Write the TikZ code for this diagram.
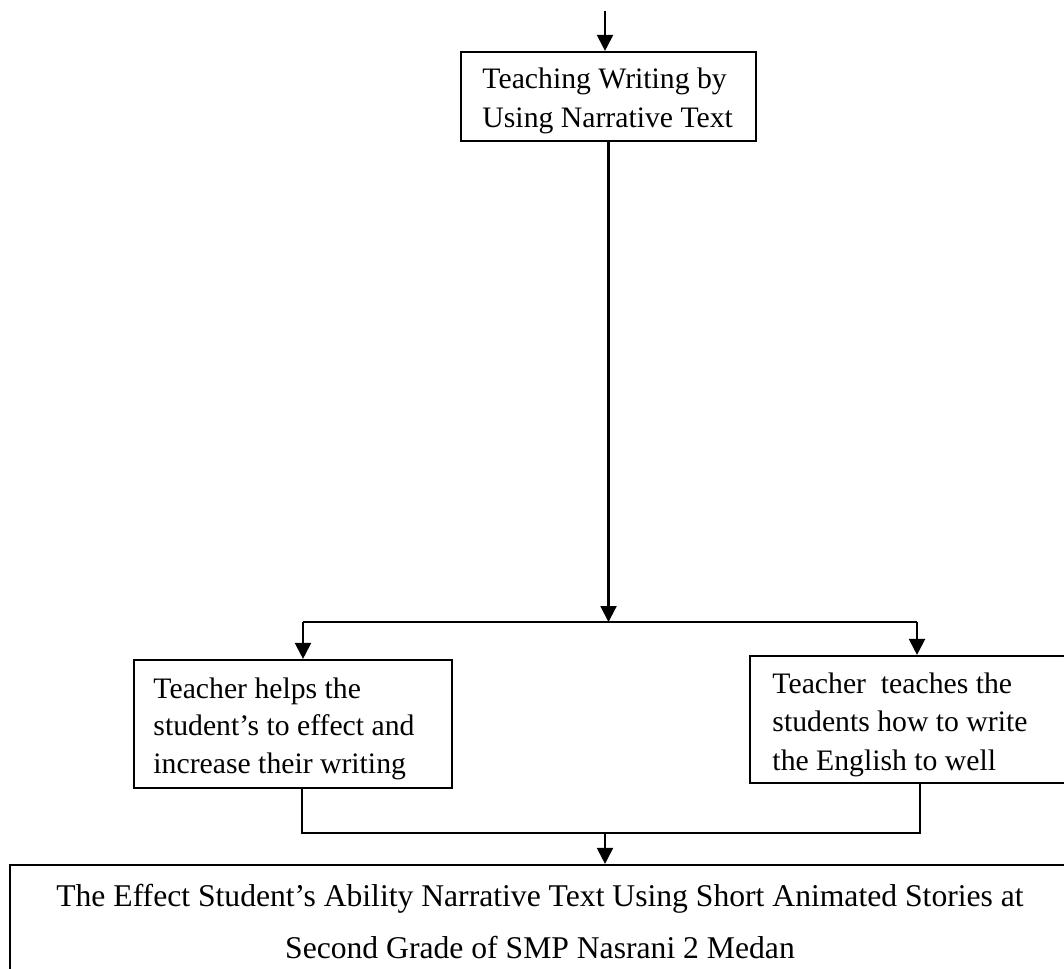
\documentclass[tikz,border=0pt]{standalone}
\usepackage{fontspec}
\setmainfont{Liberation Serif}
\usetikzlibrary{arrows.meta, fit}
\tikzset{
    flowBox/.style={rectangle, draw, line width=0.9pt, inner sep=0pt},
    flowText/.style={anchor=base west, align=left, inner sep=0pt, font=\fontsize{12.3pt}{15.9pt}\selectfont},
    flowLine/.style={line width=0.85pt},
    flowEdge/.style={flowLine, -{Triangle[length=6.6pt, width=6.6pt]}},
}
\newcommand{\drawLink}[3][flowEdge]{
    \draw[#1] (#2) -- (#3);
}

\begin{document}
\begin{tikzpicture}[x=0.414pt, y=-0.414pt]

        \useasboundingbox (0,0) rectangle (1064,968);

        % boxes
        \node[flowBox, fit={(461,52) (756,141)}] (teach) {};
        \node[flowBox, fit={(134,660) (452,788)}] (helps) {};
        \node[flowBox, fit={(750,656) (1080,783)}] (teaches) {};
        \node[flowBox, fit={(10,865) (1080,990)}] (effect) {};

        % texts (anchored at the last baseline)
        \node[flowText] (teachTxt) at (482,127) {Teaching Writing by\\Using Narrative Text};
        \node[flowText, font=\fontsize{12.3pt}{15.5pt}\selectfont] (helpsTxt) at (153,773) {Teacher helps the\\student’s to effect and\\increase their writing};
        \node[flowText] (teachesTxt) at (772,770) {Teacher\ \ teaches the\\students how to write\\the English to well};
        \node[flowText, anchor=base, align=center, font=\fontsize{13.1pt}{21.5pt}\selectfont] (effectTxt) at (540,958) {The Effect Student’s Ability Narrative Text Using Short Animated Stories at\\Second Grade of SMP Nasrani 2 Medan};

        % connectors
        \coordinate (entry) at (605,11);
        \coordinate (split) at (608,622);
        \coordinate (splitL) at (303,622);
        \coordinate (splitR) at (917,622);
        \coordinate (joinL) at (302,833);
        \coordinate (joinR) at (920,833);
        \coordinate (join) at (605,833);

        \drawLink{entry}{entry |- teach.north}
        \drawLink{teach.south}{teach.south |- split}
        \drawLink[flowLine]{splitL}{splitR}
        \drawLink{splitL}{splitL |- helps.north}
        \drawLink{splitR}{splitR |- teaches.north}
        \draw[flowLine] (joinL |- helps.south) -- (joinL) -- (joinR) -- (joinR |- teaches.south);
        \drawLink{join}{join |- effect.north}

\end{tikzpicture}
\end{document}
